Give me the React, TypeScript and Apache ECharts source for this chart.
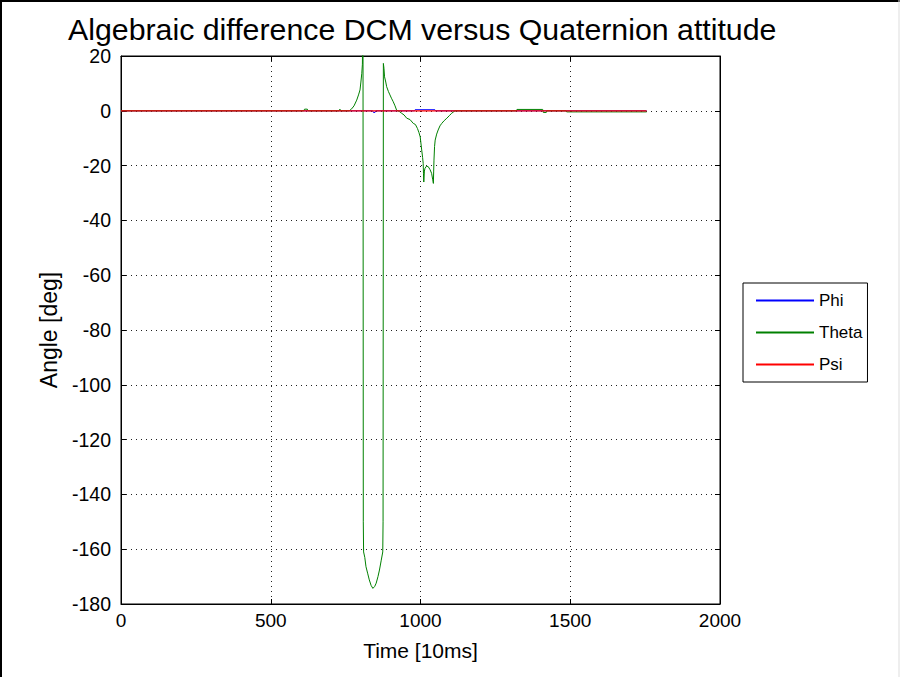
import React, { useEffect, useRef } from "react";
import * as echarts from "echarts";

const seriesNames = ["Phi", "Theta", "Psi"];
const seriesColors = ["#0000ff", "#008000", "#ff0000"];

const xTicks = [0, 500, 1000, 1500, 2000];
const yTicks = [20, 0, -20, -40, -60, -80, -100, -120, -140, -160, -180];

const phiData: [number, number][] = [
  [0, 0], [840, 0], [843, -0.6], [848, -0.6], [851, 0], [980, 0],
  [982, 0.4], [1048, 0.4], [1050, 0], [1755, 0],
];

const thetaData: [number, number][] = [
  [0, 0], [610, 0], [613, 0.6], [622, 0.6], [625, 0], [728, 0], [731, 0.6], [733, 0],
  [762, 0], [770, 0.7], [778, 1.8], [787, 3.9], [793, 5.8], [798, 7.6], [801, 10.5],
  [804, 13.7], [806, 17], [808, 40], [809, -150], [810, -161], [814, -163],
  [818, -166.4], [824, -169], [829, -171.2], [835, -173.2], [841, -174.3],
  [847, -173.6], [852, -172.4], [858, -170], [863, -167.6], [869, -164],
  [874, -161], [875, -150], [876, 17.3], [878, 15.5], [880, 12.4], [884, 10.5],
  [887, 8.8], [893, 7], [898, 5.8], [903, 4.6], [909, 3.3], [915, 1.8], [920, 0.3],
  [930, -0.3], [937, -0.9], [945, -1.5], [954, -2.7], [965, -3.2], [976, -4.6],
  [983, -5], [990, -6.5], [995, -8], [999, -9.5], [1004, -14.3], [1007, -17],
  [1009, -19.2], [1010, -23], [1011, -26], [1013, -22], [1015, -21], [1020, -20.2],
  [1026, -20.4], [1032, -21.5], [1037, -22.8], [1041, -25.2], [1043, -26.5],
  [1044, -22], [1045, -18], [1047, -13], [1049, -10.7], [1054, -8.5], [1059, -7],
  [1065, -5.5], [1071, -4.6], [1079, -3.6], [1088, -2.7], [1096, -1.8],
  [1104, -0.9], [1115, 0], [1320, 0], [1322, 0.5], [1408, 0.5], [1410, -0.6],
  [1420, -0.6], [1422, 0], [1486, 0], [1488, -0.4], [1755, -0.4],
];

const psiData: [number, number][] = [
  [0, 0], [1755, 0],
];

const FONT = "'Liberation Sans', Arial, Helvetica, sans-serif";

export default function App() {
  const ref = useRef<HTMLDivElement>(null);
  useEffect(() => {
    document.body.style.margin = "0";
    if (!ref.current) return;
    const chart = echarts.init(ref.current, undefined, { renderer: "svg" });
    const xMin = xTicks[0];
    const xMax = xTicks[xTicks.length - 1];
    const yMin = yTicks[yTicks.length - 1];
    const yMax = yTicks[0];
    const dotted = { type: [1, 4] as any, color: "#222", width: 1 };
    const tick = { show: true, inside: true, length: 5, lineStyle: { color: "#000" } };
    const line = { show: true, onZero: false, lineStyle: { color: "#000" } };
    const baseX = {
      type: "value" as const,
      min: xMin,
      max: xMax,
      interval: 500,
    };
    const baseY = {
      type: "value" as const,
      min: yMin,
      max: yMax,
      interval: 20,
    };
    const datas = [phiData, thetaData, psiData];
    chart.setOption({
      animation: false,
      backgroundColor: "#ffffff",
      textStyle: { fontFamily: FONT },
      title: {
        text: "Algebraic difference DCM versus Quaternion attitude",
        left: 63,
        top: 9,
        textStyle: { fontFamily: FONT, fontSize: 30.3, fontWeight: "normal", color: "#000" },
      },
      grid: {
        left: 121,
        top: 56,
        right: 180,
        bottom: 73,
        show: true,
        borderColor: "#000",
        borderWidth: 1,
        backgroundColor: "#fff",
      },
      legend: {
        orient: "vertical",
        left: 743,
        top: 283,
        data: seriesNames,
        icon: "rect",
        itemWidth: 58,
        itemHeight: 2,
        itemGap: 15,
        padding: [9, 5, 9, 13],
        borderColor: "#000",
        borderWidth: 1,
        backgroundColor: "#fff",
        textStyle: { fontFamily: FONT, fontSize: 17, color: "#000" },
      },
      xAxis: [
        {
          ...baseX,
          position: "bottom",
          name: "Time [10ms]",
          nameLocation: "middle",
          nameGap: 36,
          nameTextStyle: { fontFamily: FONT, fontSize: 21, color: "#000" },
          axisLine: line,
          axisTick: tick,
          axisLabel: {
            fontFamily: FONT, fontSize: 19, color: "#000", margin: 7,
            formatter: (v: number) => String(v),
          },
          splitLine: { show: true, lineStyle: dotted },
        },
        {
          ...baseX,
          position: "top",
          axisLine: line,
          axisTick: tick,
          axisLabel: { show: false },
          splitLine: { show: false },
        },
      ],
      yAxis: [
        {
          ...baseY,
          position: "left",
          name: "Angle [deg]",
          nameLocation: "middle",
          nameGap: 61,
          nameTextStyle: { fontFamily: FONT, fontSize: 23, color: "#000" },
          axisLine: line,
          axisTick: tick,
          axisLabel: {
            fontFamily: FONT, fontSize: 19.5, color: "#000", margin: 10,
            formatter: (v: number) => String(v),
          },
          splitLine: { show: true, lineStyle: dotted },
        },
        {
          ...baseY,
          position: "right",
          axisLine: line,
          axisTick: tick,
          axisLabel: { show: false },
          splitLine: { show: false },
        },
      ],
      series: seriesNames.map((name, i) => ({
        name,
        type: "line",
        data: datas[i],
        xAxisIndex: 0,
        yAxisIndex: 0,
        showSymbol: false,
        symbol: "none",
        clip: true,
        lineStyle: { color: seriesColors[i], width: i === 2 ? 1.3 : 1 },
        itemStyle: { color: seriesColors[i] },
        z: 2 + i,
      })),
      graphic: [
        { type: "line", shape: { x1: 0, y1: 1, x2: 900, y2: 1 }, style: { stroke: "#000", lineWidth: 2 } },
        { type: "line", shape: { x1: 1, y1: 0, x2: 1, y2: 677 }, style: { stroke: "#000", lineWidth: 2 } },
        { type: "line", shape: { x1: 899, y1: 0, x2: 899, y2: 677 }, style: { stroke: "#ddd", lineWidth: 1 } },
      ],
    });
    return () => chart.dispose();
  }, []);
  return <div ref={ref} style={{ width: 900, height: 677 }} />;
}
